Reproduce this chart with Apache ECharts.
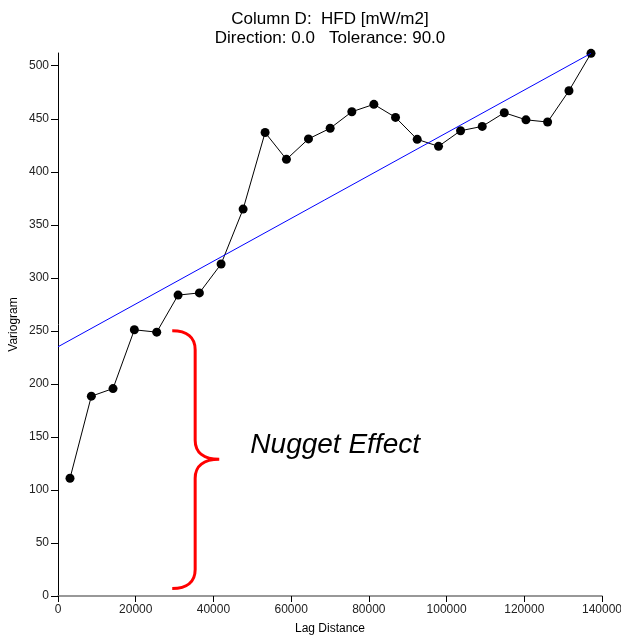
<!DOCTYPE html>
<html><head><meta charset="utf-8">
<script src="https://cdn.jsdelivr.net/npm/echarts@6/dist/echarts.min.js"></script>
<style>html,body{margin:0;padding:0;background:#fff}#c{width:621px;height:639px}</style>
</head><body><div id="c"></div>
<script>
// Experimental variogram
const lagDistance = [3090, 8580, 14160, 19650, 25410, 30900, 36390, 41970, 47640, 53300, 58790, 64460, 70040, 75620, 81290, 86860, 92440, 97930, 103600, 109180, 114850, 120430, 126000, 131500, 137170];
const variogram = [111, 188.4, 195.6, 251, 248.8, 283.7, 285.8, 313, 364.8, 437, 411.7, 431, 441, 456.6, 463.6, 451.3, 430.6, 424, 438.7, 442.8, 455.7, 449, 446.9, 476.4, 511.7];
// Linear model line
const modelLag = [0, 137170];
const modelVariogram = [235, 511.7];
// Ticks
const xTicks = [0, 20000, 40000, 60000, 80000, 100000, 120000, 140000];
const yTicks = [0, 50, 100, 150, 200, 250, 300, 350, 400, 450, 500];
// Texts
const titleLines = ['Column D:  HFD [mW/m2]', 'Direction: 0.0   Tolerance: 90.0'];
const xName = 'Lag Distance';
const yName = 'Variogram';
const annotationText = 'Nugget Effect';
// Nugget brace range (variogram units) and lags
const nuggetRange = [7, 129, 250];
const braceLag = [29400, 35300, 41500];
const annotationAnchor = [49500, 142];

const FONT = '"Liberation Sans", Arial, sans-serif';
const chart = echarts.init(document.getElementById('c'), null, {renderer: 'canvas'});

const pts = lagDistance.map((x, i) => [x, variogram[i]]);
const model = modelLag.map((x, i) => [x, modelVariogram[i]]);

chart.setOption({
  animation: false,
  backgroundColor: '#fff',
  title: {
    text: titleLines.join('\n'),
    left: 325, top: 5, textAlign: 'center',
    textStyle: {fontSize: 17, fontWeight: 'normal', color: '#000', fontFamily: FONT, lineHeight: 19}
  },
  grid: {left: 58, right: 19, top: 53, bottom: 43, containLabel: false, outerBoundsMode: 'none'},
  xAxis: {
    type: 'value', min: 0, max: 140000, interval: 20000,
    name: xName, nameLocation: 'middle', nameGap: 27, nameMoveOverlap: false,
    nameTextStyle: {fontSize: 12, color: '#000', fontFamily: FONT},
    axisLine: {show: true, onZero: false, lineStyle: {color: '#777', width: 1.5}},
    axisTick: {show: true, length: 6, lineStyle: {color: '#000'}},
    axisLabel: {fontSize: 12, color: '#222', margin: 8, fontFamily: FONT, customValues: xTicks,
      formatter: v => String(v)},
    splitLine: {show: false}
  },
  yAxis: {
    type: 'value', min: 0, max: 512, interval: 50,
    name: yName, nameLocation: 'middle', nameGap: 38, nameMoveOverlap: false,
    nameTextStyle: {fontSize: 12, color: '#000', fontFamily: FONT},
    axisLine: {show: true, onZero: false, lineStyle: {color: '#000', width: 1}},
    axisTick: {show: true, length: 7, lineStyle: {color: '#000'}, customValues: yTicks},
    axisLabel: {fontSize: 12, color: '#222', margin: 9, fontFamily: FONT, customValues: yTicks,
      formatter: v => String(v)},
    splitLine: {show: false}
  },
  series: [
    {
      type: 'line', data: pts, symbol: 'circle', symbolSize: 9, showAllSymbol: true,
      itemStyle: {color: '#000'}, lineStyle: {color: '#000', width: 1}, z: 3
    },
    {
      type: 'line', data: model, symbol: 'none',
      lineStyle: {color: '#0000ff', width: 1}, z: 4
    },
    {
      type: 'custom', coordinateSystem: 'cartesian2d', data: [[braceLag[0], nuggetRange[0]]],
      z: 5, silent: true,
      renderItem: function (params, api) {
        const e = api.coord([braceLag[0], nuggetRange[2]]);
        const b = api.coord([braceLag[0], nuggetRange[0]]);
        const s = api.coord([braceLag[1], nuggetRange[1]]);
        const t = api.coord([braceLag[2], nuggetRange[1]]);
        const ex = e[0], ey = e[1], by = b[1], sx = s[0], tx = t[0], ty = t[1];
        const r = sx - ex, ry = 19, rt = tx - sx;
        const d = [
          'M', ex, ey,
          'C', ex + r * 0.65, ey, sx, ey + ry * 0.35, sx, ey + ry,
          'L', sx, ty - ry,
          'C', sx, ty - ry * 0.35, sx + rt * 0.35, ty, tx, ty,
          'C', sx + rt * 0.35, ty, sx, ty + ry * 0.35, sx, ty + ry,
          'L', sx, by - ry,
          'C', sx, by - ry * 0.35, ex + r * 0.65, by, ex, by
        ].join(' ');
        const a = api.coord(annotationAnchor);
        return {
          type: 'group',
          children: [
            {type: 'path', shape: {pathData: d}, style: {stroke: '#ff0000', fill: null, lineWidth: 3}},
            {type: 'text', x: a[0], y: a[1], style: {
              text: annotationText, fontSize: 28, fontStyle: 'italic', fontFamily: FONT,
              fill: '#000', align: 'left', verticalAlign: 'middle'
            }}
          ]
        };
      }
    }
  ]
});
</script></body></html>
